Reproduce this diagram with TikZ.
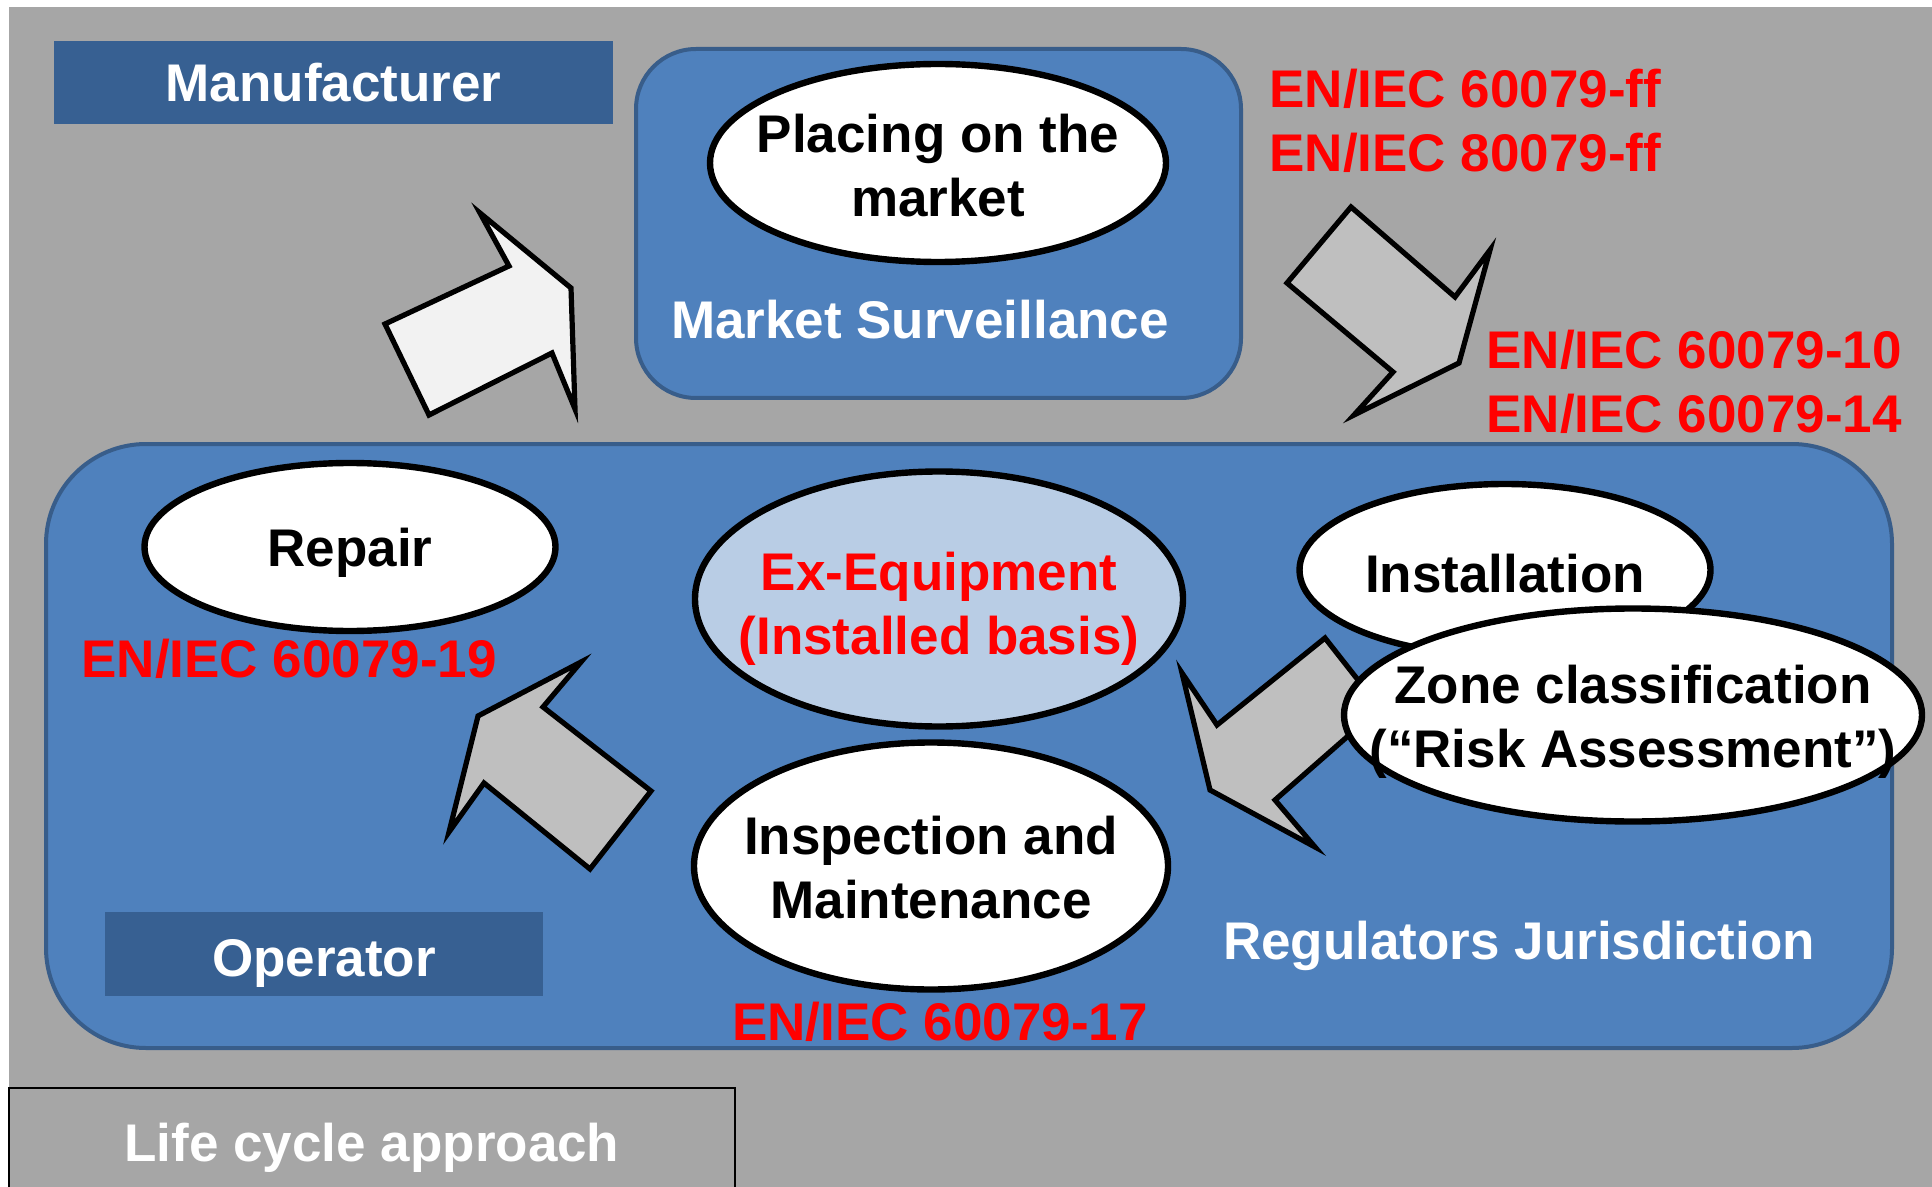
\documentclass[tikz,border=0pt]{standalone}
\usepackage{fontspec}
\setmainfont{Liberation Sans}
\usetikzlibrary{shapes.geometric}
\definecolor{bggray}{HTML}{A6A6A6}
\definecolor{panelblue}{HTML}{4F81BD}
\definecolor{panelline}{HTML}{385D8A}
\definecolor{roleblue}{HTML}{376092}
\definecolor{exblue}{HTML}{B9CDE5}
\definecolor{arrowgray}{HTML}{BFBFBF}
\definecolor{arrowlight}{HTML}{F2F2F2}
\definecolor{normred}{HTML}{FF0000}

\begin{document}
\begin{tikzpicture}[x=0.5pt,y=-0.5pt,
        every node/.style={font=\fontsize{26.5}{32}\selectfont\bfseries,inner sep=0pt,align=center},
        bubble/.style={draw,ellipse,line width=3.2pt,fill=white},
        blockarrow/.style={draw,line width=2.6pt,fill=arrowgray},
        panel/.style={draw=panelline,line width=2pt,fill=panelblue},
        rolebox/.style={fill=roleblue,text=white},
        norm/.style={text=normred,align=left}]
        \useasboundingbox (0,0) rectangle (1932,1187);
        \fill[white] (0,0) rectangle (1932,1187);
        \fill[bggray] (9,7) rectangle (1932,1187);

        \draw[panel,rounded corners=30pt] (636,49) rectangle (1241,398);
        \draw[panel,rounded corners=50pt] (46,444) rectangle (1892,1048);

        \node[rolebox,minimum width=279.5pt,minimum height=41.5pt] (manufacturer) at (333.5,82.5) {Manufacturer};
        \node[rolebox,minimum width=219pt,minimum height=42pt] (operator) at (324,954) {};
        \node[text=white] (operatortext) at (324,963) {Operator};
        \draw[line width=1pt] (9,1088) rectangle (735,1200);
        \node[text=white] (lifecycle) at (372,1148) {Life cycle approach};

        \node[bubble,minimum width=228pt,minimum height=99pt] (placing) at (938,163) {};
        \node (placingtext) at (938,166) {Placing on the\\market};
        \node[text=white] (surveillance) at (920,320) {Market Surveillance};
        \node[norm,anchor=west] (normsff) at (1269,121) {EN/IEC 60079-ff\\EN/IEC 80079-ff};
        \node[norm,anchor=west] (normsinst) at (1486,382) {EN/IEC 60079-10\\EN/IEC 60079-14};

        \draw[blockarrow,fill=arrowlight] (480,213) -- (571,288) -- (575,409) -- (552,353) -- (429,415) -- (385,324) -- (509,266) -- cycle;
        \draw[blockarrow] (1351,207) -- (1287,283) -- (1393,372) -- (1354,415) -- (1459,363) -- (1490,250) -- (1455,297) -- cycle;

        \node[bubble,minimum width=205.5pt,minimum height=84pt] (repair) at (350,547) {};
        \node (repairtext) at (350,553) {Repair};
        \node[norm,anchor=west] (normrepair) at (81,659) {EN/IEC 60079-19};

        \node[bubble,fill=exblue,minimum width=244pt,minimum height=127.5pt] (equipment) at (939,599) {};
        \node[text=normred] (equipmenttext) at (939,609) {Ex-Equipment\\(Installed basis)};

        \node[bubble,minimum width=205.5pt,minimum height=86pt] (installation) at (1505,570) {};
        \node (installationtext) at (1505,574) {Installation};

        \draw[blockarrow] (1325,638) -- (1217,725) -- (1182,673) -- (1210,790) -- (1315,847) -- (1275,800) -- (1380,708) -- cycle;
        \draw[blockarrow] (581,662) -- (543,707) -- (651,791) -- (590,869) -- (484,783) -- (449,832) -- (478,716) -- cycle;

        \node[bubble,minimum width=289pt,minimum height=106.5pt] (zone) at (1633,715) {};
        \node (zonetext) at (1633,722) {Zone classification\\(“Risk Assessment”)};

        \node[bubble,minimum width=237pt,minimum height=123.5pt] (inspection) at (931,866) {};
        \node (inspectiontext) at (931,868) {Inspection and\\Maintenance};
        \node[norm] (normsinsp) at (940,1022) {EN/IEC 60079-17};
        \node[text=white] (regulators) at (1519,946) {Regulators Jurisdiction};
\end{tikzpicture}
\end{document}
